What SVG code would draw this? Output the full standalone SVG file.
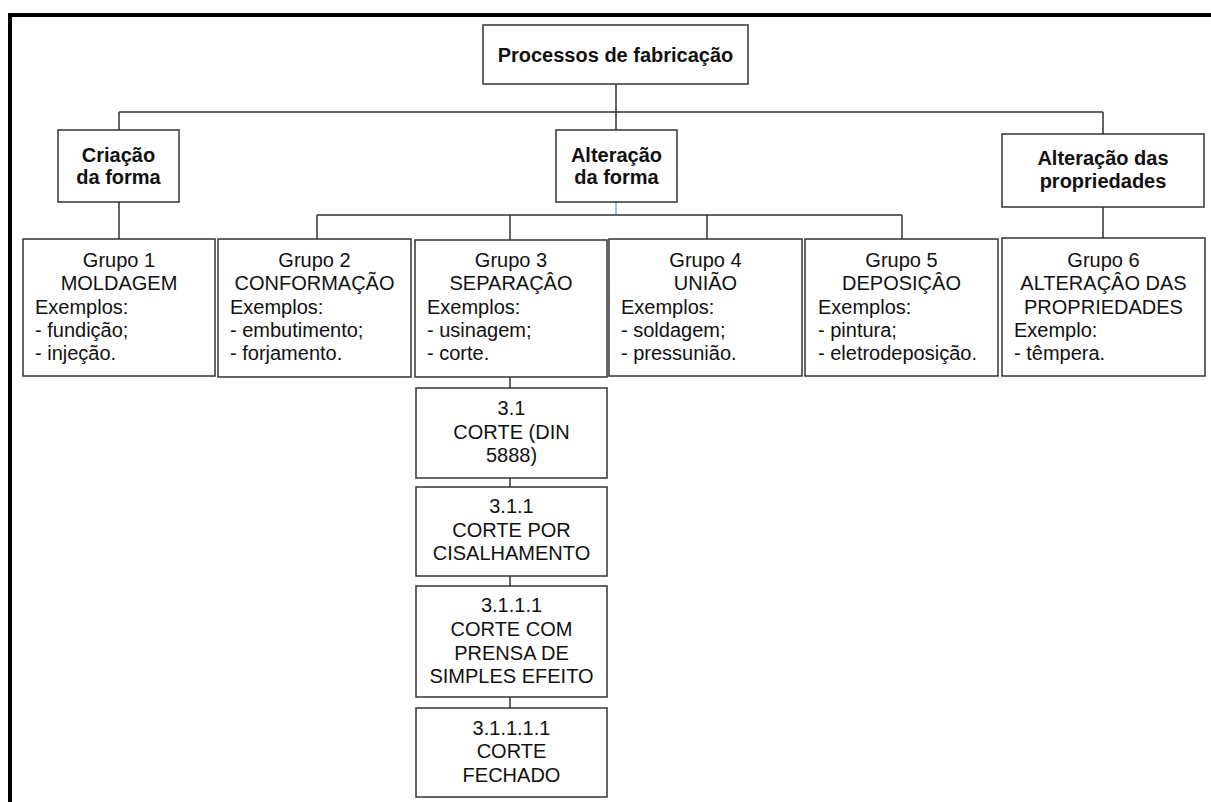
<svg xmlns="http://www.w3.org/2000/svg" width="1211" height="802" viewBox="0 0 1211 802">
<style>
.box{fill:#fff;stroke:#333;stroke-width:1.5}
.ln{fill:none;stroke:#333;stroke-width:1.5}
.t{font-family:"Liberation Sans",Arial,sans-serif;font-size:20px;fill:#111}
.b{font-family:"Liberation Sans",Arial,sans-serif;font-size:20px;font-weight:bold;fill:#111;text-anchor:middle}
.c{text-anchor:middle}
</style>
<rect width="1211" height="802" fill="#fff"/>
<path d="M10,802 V15 H1211" fill="none" stroke="#000" stroke-width="4"/>
<g id="connectors">
<path class="ln" d="M616,84 V112 M119,112 H1103 M119,112 V130 M616,112 V130 M1103,112 V134"/>
<path class="ln" d="M119,202 V239 M1103,207 V238"/>
<path d="M616,202 V215" fill="none" stroke="#7aa6e0" stroke-width="1.5"/>
<path class="ln" d="M317,215 H902 M317,215 V239 M510,215 V240 M707,215 V239 M902,215 V239"/>
<path class="ln" d="M510,377 V388 M510,478 V487 M510,576 V586 M510,697 V708"/>
</g>
<g id="root">
<rect class="box" x="483" y="25" width="265" height="59"/>
<text class="b" x="615.5" y="62">Processos de fabricação</text>
</g>
<g id="criacao">
<rect class="box" x="58" y="130" width="121" height="72"/>
<text class="b" x="118.5" y="162">Criação</text>
<text class="b" x="118.5" y="184">da forma</text>
</g>
<g id="alteracao-forma">
<rect class="box" x="556" y="130" width="121" height="72"/>
<text class="b" x="616.5" y="162">Alteração</text>
<text class="b" x="616.5" y="184">da forma</text>
</g>
<g id="alteracao-prop">
<rect class="box" x="1002" y="134" width="202" height="73"/>
<text class="b" x="1103" y="165">Alteração das</text>
<text class="b" x="1103" y="188">propriedades</text>
</g>
<g id="g1">
<rect class="box" x="23" y="239" width="192" height="137"/>
<text class="t c" x="119" y="267">Grupo 1</text>
<text class="t c" x="119" y="290">MOLDAGEM</text>
<text class="t" x="35" y="313.5">Exemplos:</text>
<text class="t" x="35" y="337">- fundição;</text>
<text class="t" x="35" y="360">- injeção.</text>
</g>
<g id="g2">
<rect class="box" x="218" y="239" width="193" height="138"/>
<text class="t c" x="314.5" y="267">Grupo 2</text>
<text class="t c" x="314.5" y="290">CONFORMAÇÃO</text>
<text class="t" x="230" y="313.5">Exemplos:</text>
<text class="t" x="230" y="337">- embutimento;</text>
<text class="t" x="230" y="360">- forjamento.</text>
</g>
<g id="g3">
<rect class="box" x="415" y="240" width="192" height="137"/>
<text class="t c" x="511" y="267">Grupo 3</text>
<text class="t c" x="511" y="290">SEPARAÇÂO</text>
<text class="t" x="427" y="313.5">Exemplos:</text>
<text class="t" x="427" y="337">- usinagem;</text>
<text class="t" x="427" y="360">- corte.</text>
</g>
<g id="g4">
<rect class="box" x="609" y="239" width="193" height="137"/>
<text class="t c" x="705.5" y="267">Grupo 4</text>
<text class="t c" x="705.5" y="290">UNIÃO</text>
<text class="t" x="621" y="313.5">Exemplos:</text>
<text class="t" x="621" y="337">- soldagem;</text>
<text class="t" x="621" y="360">- pressunião.</text>
</g>
<g id="g5">
<rect class="box" x="805" y="239" width="193" height="137"/>
<text class="t c" x="901.5" y="267">Grupo 5</text>
<text class="t c" x="901.5" y="290">DEPOSIÇÂO</text>
<text class="t" x="818" y="313.5">Exemplos:</text>
<text class="t" x="818" y="337">- pintura;</text>
<text class="t" x="818" y="360">- eletrodeposição.</text>
</g>
<g id="g6">
<rect class="box" x="1002" y="238" width="203" height="138"/>
<text class="t c" x="1103.5" y="267">Grupo 6</text>
<text class="t c" x="1103.5" y="290">ALTERAÇÂO DAS</text>
<text class="t c" x="1103.5" y="313.5">PROPRIEDADES</text>
<text class="t" x="1014" y="337">Exemplo:</text>
<text class="t" x="1014" y="360">- têmpera.</text>
</g>
<g id="n31">
<rect class="box" x="416" y="388" width="191" height="90"/>
<text class="t c" x="511.5" y="415">3.1</text>
<text class="t c" x="511.5" y="439">CORTE (DIN</text>
<text class="t c" x="511.5" y="462">5888)</text>
</g>
<g id="n311">
<rect class="box" x="416" y="487" width="191" height="89"/>
<text class="t c" x="511.5" y="513">3.1.1</text>
<text class="t c" x="511.5" y="537">CORTE POR</text>
<text class="t c" x="511.5" y="560">CISALHAMENTO</text>
</g>
<g id="n3111">
<rect class="box" x="416" y="586" width="191" height="111"/>
<text class="t c" x="511.5" y="612">3.1.1.1</text>
<text class="t c" x="511.5" y="636">CORTE COM</text>
<text class="t c" x="511.5" y="660">PRENSA DE</text>
<text class="t c" x="511.5" y="683">SIMPLES EFEITO</text>
</g>
<g id="n31111">
<rect class="box" x="416" y="708" width="191" height="89"/>
<text class="t c" x="511.5" y="735">3.1.1.1.1</text>
<text class="t c" x="511.5" y="758">CORTE</text>
<text class="t c" x="511.5" y="782">FECHADO</text>
</g>
</svg>
